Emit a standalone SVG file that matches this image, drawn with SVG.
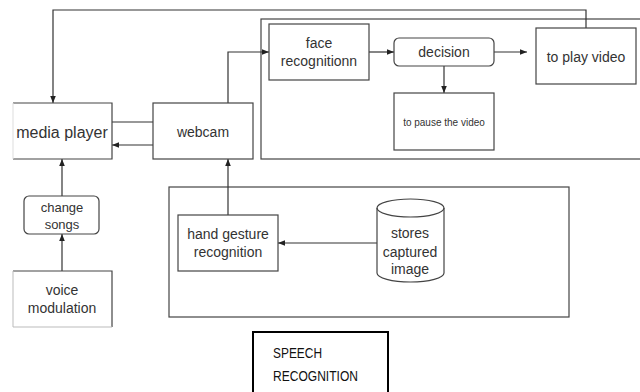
<svg xmlns="http://www.w3.org/2000/svg" width="640" height="392" viewBox="0 0 640 392">
<defs>
<marker id="ah" viewBox="0 0 10 10" refX="10" refY="5" markerWidth="7" markerHeight="7" orient="auto" markerUnits="userSpaceOnUse">
<path d="M0,1 L10,5 L0,9 Z" fill="#222"/>
</marker>
</defs>
<style>
.box{fill:#fff;stroke:#444;stroke-width:1.2}
.cont{fill:none;stroke:#444;stroke-width:1.2}
.ln{fill:none;stroke:#333;stroke-width:1.2}
.t{font-family:"Liberation Sans",Arial,sans-serif;fill:#333;text-anchor:middle}
</style>
<rect width="640" height="392" fill="#fff"/>
<g id="face-container"><rect class="cont" x="261" y="19" width="390" height="140"/></g>
<g id="hand-container"><rect class="cont" x="169" y="187" width="400" height="130"/></g>
<g id="connectors">
<path class="ln" d="M586,28 V10 H53 V103" marker-end="url(#ah)"/>
<path class="ln" d="M153,122 H112"/>
<path class="ln" d="M153,145 H112" marker-end="url(#ah)"/>
<path class="ln" d="M228,103 V52 H269" marker-end="url(#ah)"/>
<path class="ln" d="M369,52 H394" marker-end="url(#ah)"/>
<path class="ln" d="M494,52 H527" marker-end="url(#ah)"/>
<path class="ln" d="M444,66 V93" marker-end="url(#ah)"/>
<path class="ln" d="M62,196 V159" marker-end="url(#ah)"/>
<path class="ln" d="M62,271 V234" marker-end="url(#ah)"/>
<path class="ln" d="M228,215 V159" marker-end="url(#ah)"/>
<path class="ln" d="M377,243 H278" marker-end="url(#ah)"/>
</g>
<g id="media-player">
<rect x="13" y="103" width="99" height="56" fill="#fff"/>
<path d="M13,103 H112 V159 H13" class="cont"/>
<path d="M13,103 V159" stroke="#ddd" stroke-width="1"/>
<text class="t" x="62" y="138" font-size="16">media player</text>
</g>
<g id="webcam">
<rect class="box" x="153" y="103" width="100" height="56"/>
<text class="t" x="203" y="137" font-size="14">webcam</text>
</g>
<g id="face-recognition">
<rect class="box" x="269" y="24" width="100" height="56"/>
<text class="t" x="319" y="48" font-size="14">face</text>
<text class="t" x="319" y="66" font-size="14">recognitionn</text>
</g>
<g id="decision">
<rect class="box" x="394" y="38" width="100" height="28" rx="5"/>
<text class="t" x="444" y="57" font-size="14">decision</text>
</g>
<g id="play-video">
<rect class="box" x="536" y="28" width="100" height="56"/>
<text class="t" x="586" y="62" font-size="14">to play video</text>
</g>
<g id="pause-video">
<rect class="box" x="394" y="93" width="100" height="57"/>
<text class="t" x="444" y="126" font-size="10">to pause the video</text>
</g>
<g id="change-songs">
<rect class="box" x="24" y="196" width="75" height="38" rx="5"/>
<text class="t" x="62" y="212" font-size="13">change</text>
<text class="t" x="62" y="229" font-size="13">songs</text>
</g>
<g id="voice-modulation">
<rect x="13" y="271" width="99" height="56" fill="#fff"/>
<path d="M13,271 H112 V327" class="cont"/>
<path d="M13,271 V327 H112" stroke="#bbb" stroke-width="1" fill="none"/>
<text class="t" x="62" y="295" font-size="14">voice</text>
<text class="t" x="62" y="313" font-size="14">modulation</text>
</g>
<g id="hand-gesture">
<rect class="box" x="178" y="215" width="100" height="56"/>
<text class="t" x="228" y="239" font-size="14">hand gesture</text>
<text class="t" x="228" y="257" font-size="14">recognition</text>
</g>
<g id="stores-image">
<path class="box" d="M377,208 A33.5,9 0 0 1 444,208 V273 A33.5,9 0 0 1 377,273 Z"/>
<path class="cont" d="M377,208 A33.5,9 0 0 0 444,208"/>
<text class="t" x="410" y="238" font-size="14">stores</text>
<text class="t" x="410" y="257" font-size="14">captured</text>
<text class="t" x="410" y="274" font-size="14">image</text>
</g>
<g id="speech-recognition">
<rect x="253" y="332" width="135" height="70" fill="#fff" stroke="#000" stroke-width="2"/>
<text x="273" y="358" font-size="15" font-family="'Liberation Sans',Arial,sans-serif" fill="#111" textLength="49" lengthAdjust="spacingAndGlyphs">SPEECH</text>
<text x="273" y="381" font-size="15" font-family="'Liberation Sans',Arial,sans-serif" fill="#111" textLength="85" lengthAdjust="spacingAndGlyphs">RECOGNITION</text>
</g>
</svg>
